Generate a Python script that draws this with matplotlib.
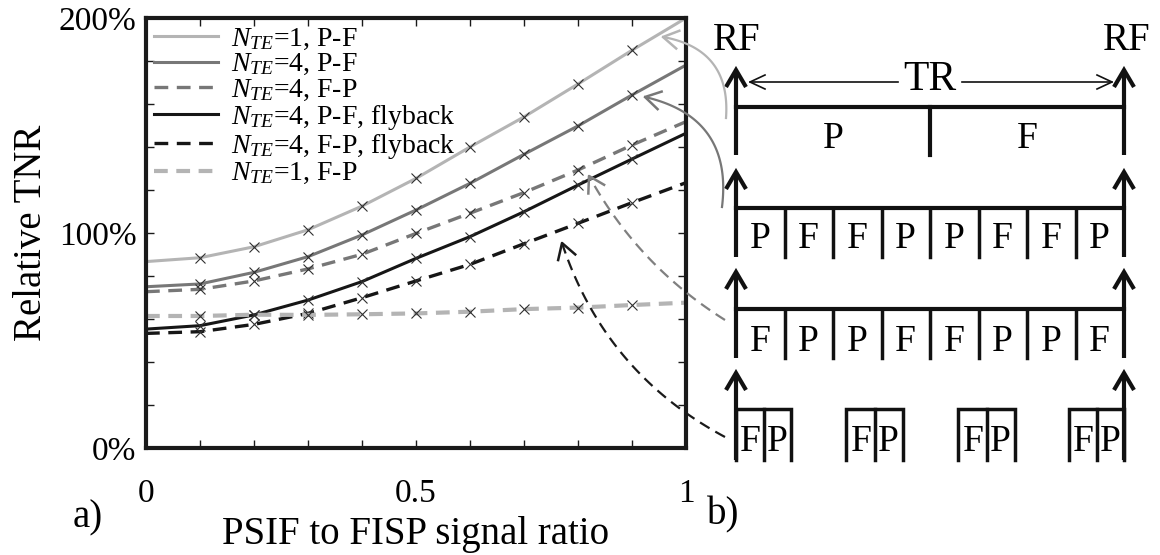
import numpy as np
import matplotlib
matplotlib.use('Agg')
import matplotlib.pyplot as plt

plt.rcParams['font.family'] = ['Liberation Serif', 'DejaVu Serif']
plt.rcParams['mathtext.fontset'] = 'custom'
plt.rcParams['mathtext.rm'] = 'Liberation Serif'
plt.rcParams['mathtext.it'] = 'Liberation Serif:italic'

# PSIF to FISP signal ratio and relative TNR (%)
ratio = [0.0, 0.1, 0.2, 0.3, 0.4, 0.5, 0.6, 0.7, 0.8, 0.9, 1.0]
n1_pf = [86.7, 88.5, 93.6, 101.5, 112.5, 125.4, 140.0, 154.0, 169.3, 185.0, 200.0]
n4_pf = [75.0, 76.3, 81.7, 89.0, 99.1, 110.7, 123.1, 136.6, 149.8, 164.2, 178.1]
n4_fp = [72.7, 73.8, 77.7, 83.3, 90.1, 99.8, 109.2, 118.8, 129.3, 140.9, 151.8]
n4_pf_fb = [55.3, 56.9, 61.9, 68.8, 77.4, 88.2, 98.3, 109.9, 122.3, 134.4, 146.4]
n4_fp_fb = [53.3, 54.1, 57.5, 62.6, 69.9, 77.7, 85.4, 95.0, 104.5, 114.1, 123.4]
n1_fp = [61.4, 61.4, 62.0, 61.9, 62.2, 62.6, 63.4, 64.6, 65.3, 66.5, 67.6]

labels = [r'$N_{TE}$=1, P-F', r'$N_{TE}$=4, P-F', r'$N_{TE}$=4, F-P',
          r'$N_{TE}$=4, P-F, flyback', r'$N_{TE}$=4, F-P, flyback',
          r'$N_{TE}$=1, F-P']
series = [n1_pf, n4_pf, n4_fp, n4_pf_fb, n4_fp_fb, n1_fp]
colors = ['#b4b4b4', '#777777', '#777777', '#161616', '#161616', '#b4b4b4']
dashed = [False, False, True, False, True, True]
widths = [2.2, 2.2, 2.4, 2.2, 2.4, 3.0]

xticks = [0.0, 0.1, 0.2, 0.3, 0.4, 0.5, 0.6, 0.7, 0.8, 0.9, 1.0]
xticklabels = ['0', '', '', '', '', '0.5', '', '', '', '', '1']
yticks = [0, 20, 40, 60, 80, 100, 120, 140, 160, 180, 200]
yticklabels = ['0%', '', '', '', '', '100%', '', '', '', '', '200%']

# pulse sequence diagram
seq_rows = ['PF', 'PFFPPFFP', 'FPPFFPPF']
flyback = 'FP'

W, H = 1160, 555
fig = plt.figure(figsize=(W / 100, H / 100), dpi=100)
ax = fig.add_axes([146 / W, 1 - 448 / H, 540 / W, 430 / H])

for y, lab, c, d, w in zip(series, labels, colors, dashed, widths):
    line, = ax.plot(ratio, y, color=c, lw=w, label=lab)
    if d:
        line.set_dashes((4.5 * 2.2 / w, 2.8 * 2.2 / w))
    ax.plot(ratio[1:-1], y[1:-1], ls='none', marker='x', ms=7, mew=0.8,
            color='#303030')

ax.set_xlim(0, 1)
ax.set_ylim(0, 200)
ax.set_xticks(xticks)
ax.set_xticklabels(xticklabels)
ax.set_yticks(yticks)
ax.set_yticklabels(yticklabels)
ax.tick_params(direction='in', length=6, width=1, top=True, right=True,
               labelsize=24, color='#1a1a1a')
ax.tick_params(axis='x', pad=22)
ax.tick_params(axis='y', pad=7)
for s in ax.spines.values():
    s.set_linewidth(3)
    s.set_color('#1a1a1a')

ax.set_xlabel('PSIF to FISP signal ratio', fontsize=28)
ax.set_ylabel('Relative TNR', fontsize=28)
ax.xaxis.set_label_coords(0.5, (448 - 516) / 430)
ax.yaxis.set_label_coords((50 - 146) / 540, 0.5)

ax.legend(loc='upper left', frameon=False, fontsize=20, handlelength=2.3,
          handletextpad=0.45, labelspacing=0.0, borderaxespad=0.0,
          borderpad=0.3)

# overlay in pixel coordinates for the diagram and the connectors
ov = fig.add_axes([0, 0, 1, 1])
ov.set_xlim(0, W)
ov.set_ylim(H, 0)
ov.axis('off')
ov.patch.set_alpha(0)

K = '#111111'


def up_arrow(x, top, bot):
    ov.plot([x, x], [bot, top + 2], color=K, lw=3, solid_capstyle='butt')
    ov.plot([x - 10, x, x + 10], [top + 17, top, top + 17], color=K, lw=3,
            solid_joinstyle='miter', solid_capstyle='butt')


def curved(p0, p1, rad, color, ls):
    p0 = np.array(p0, float)
    p1 = np.array(p1, float)
    d = p1 - p0
    c = (p0 + p1) / 2 + rad * np.array([-d[1], d[0]])
    t = np.linspace(0, 1, 60)[:, None]
    pts = (1 - t) ** 2 * p0 + 2 * (1 - t) * t * c + t ** 2 * p1
    ln, = ov.plot(pts[:, 0], pts[:, 1], color=color, lw=1.6)
    if ls == '--':
        ln.set_dashes((5, 3))
    u = (p1 - c) / np.linalg.norm(p1 - c)
    n = np.array([-u[1], u[0]])
    a = p1 - 15 * u + 9 * n
    b = p1 - 15 * u - 9 * n
    ov.plot([a[0], p1[0], b[0]], [a[1], p1[1], b[1]], color=color, lw=1.8)


xl, xr = 736, 1124
ov.text(737, 40, 'RF', fontsize=28, ha='center', va='center')
ov.text(1127, 40, 'RF', fontsize=28, ha='center', va='center')
ov.text(930, 80, 'TR', fontsize=30, ha='center', va='center')
for x0, x1 in [(898, 750), (962, 1112)]:
    ov.plot([x0, x1], [82, 82], color=K, lw=1.2)
    s = np.sign(x1 - x0)
    ov.plot([x1 - s * 15, x1, x1 - s * 15], [75, 82, 89], color=K, lw=1.2)

rows = [(70, 107, 155, 139), (172, 208, 257, 239), (272, 309, 358, 342)]
for (top, hl, bot, ty), seq in zip(rows, seq_rows):
    up_arrow(xl, top, bot)
    up_arrow(xr, top, bot)
    ov.plot([xl, xr], [hl, hl], color=K, lw=3)
    edges = np.linspace(xl, xr, len(seq) + 1)
    for e in edges[1:-1]:
        ov.plot([e, e], [hl, bot], color=K, lw=3 if len(seq) == 2 else 2.5)
    for i, ch in enumerate(seq):
        ov.text((edges[i] + edges[i + 1]) / 2, ty, ch, fontsize=27,
                ha='center', va='center')

up_arrow(xl, 373, 460)
up_arrow(xr, 373, 460)
blocks = [(736, 791), (846, 903), (958, 1015), (1069, 1124)]
for b0, b1 in blocks:
    m = (b0 + b1) / 2
    ov.plot([b0, b0, b1, b1], [460, 409, 409, 460], color=K, lw=2.5,
            solid_joinstyle='miter')
    ov.plot([m, m], [409, 460], color=K, lw=2.5)
    ov.text((b0 + m) / 2 + 1, 442, flyback[0], fontsize=27, ha='center',
            va='center')
    ov.text((m + b1) / 2, 442, flyback[1], fontsize=27, ha='center',
            va='center')

curved((726, 118), (663, 37), 0.45, '#b4b4b4', '-')
curved((722, 207), (645, 97), 0.45, '#777777', '-')
curved((725, 320), (589, 176), -0.13, '#808080', '--')
curved((725, 437), (562, 243), -0.2, '#1a1a1a', '--')

ov.text(88, 518, 'a)', fontsize=28, ha='center', va='center')
ov.text(723, 515, 'b)', fontsize=28, ha='center', va='center')

fig.savefig('out.png', dpi=100)
